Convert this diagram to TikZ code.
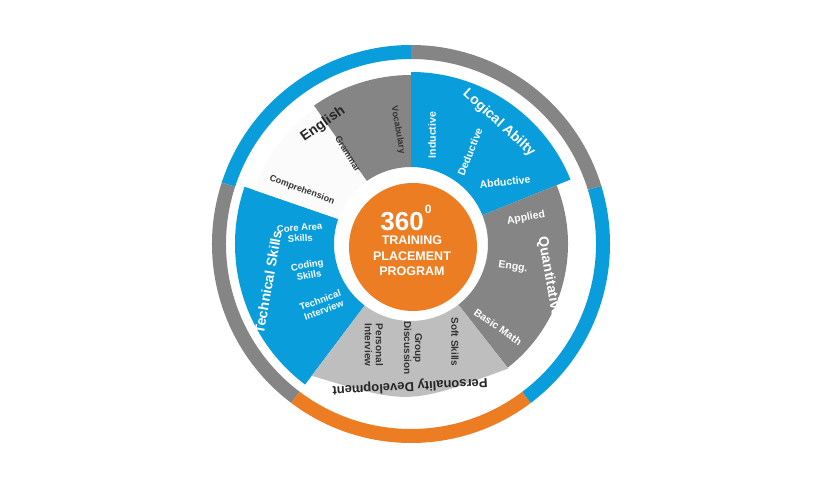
\documentclass[tikz,border=0pt]{standalone}
\usepackage{fontspec}
\setmainfont{Liberation Sans}
\usetikzlibrary{calc}
\definecolor{cblue}{HTML}{0A9DDC}
\definecolor{cgray}{HTML}{858585}
\definecolor{clgray}{HTML}{BEBEBE}
\definecolor{corange}{HTML}{EC7D22}
\newcommand{\mysector}[5]{\fill[#1] ($(O)+(#2:#5)$) arc[start angle=#2,end angle=#3,radius=#5] -- ($(O)+(#3:#4)$) arc[start angle=#3,end angle=#2,radius=#4] -- cycle;}
\tikzset{wt/.style={text=white,font=\bfseries\fontsize{10.5}{11}\selectfont,align=center,inner sep=1pt},
 ws/.style={text=white,font=\bfseries\fontsize{9.5}{10.5}\selectfont,align=center,inner sep=1pt},
 dk/.style={text=black!80,font=\bfseries\fontsize{10}{11}\selectfont,align=center,inner sep=1pt},
 tt/.style={text=white,font=\bfseries\fontsize{14}{15}\selectfont,inner sep=1pt}}
\begin{document}
\begin{tikzpicture}[x=1pt,y=1pt]
\useasboundingbox (0,0) rectangle (820,480);
\fill[white] (0,0) rectangle (820,480);
\coordinate (O) at (411,236);
% outer ring
\mysector{cblue}{90}{162}{185}{199}
\mysector{cgray}{162}{233}{185}{199}
\mysector{corange}{233}{307}{185}{199}
\mysector{cblue}{307}{377}{185}{199}
\mysector{cgray}{17}{90}{185}{199}
% sectors
\mysector{cblue}{22}{90}{77}{172}
\mysector{cgray}{-52}{22}{77}{157}
\mysector{cblue}{161}{233}{77}{176}
\mysector{white!97!gray}{125}{161}{77}{166}
\mysector{cgray}{90}{125}{77}{169}
\fill[clgray] ($(O)+(233:77)$) -- ($(O)+(233:165)$) .. controls (409,75) .. ($(O)+(308:158)$) -- ($(O)+(308:77)$) arc[start angle=308,end angle=233,radius=77] -- cycle;
% center
\node[circle,fill=corange,minimum size=128pt,inner sep=0pt] (c) at (413,233) {};
\node[text=white,font=\bfseries\fontsize{26}{26}\selectfont,inner sep=1pt] (n360) at (406,262) {360\kern1pt\raisebox{1.3ex}{\fontsize{12}{12}\selectfont 0}};
\node[text=white,font=\bfseries\fontsize{12.5}{15.5}\selectfont,align=center,inner sep=1pt] (ttp) at (412,224) {TRAINING\\PLACEMENT\\PROGRAM};
% logical
\node[tt,rotate=-42] (la) at (499,357) {Logical Abilty};
\node[wt,rotate=90] (ind) at (432,345) {Inductive};
\node[wt,rotate=68] (ded) at (470,328) {Deductive};
\node[wt,rotate=6] (abd) at (505,298) {Abductive};
% quant
\node[tt,rotate=-80] (qu) at (549,203) {Quantitative};
\node[wt,rotate=10] (app) at (526,262) {Applied};
\node[wt,rotate=-8] (eng) at (513,213) {Engg.};
\node[wt,rotate=-35] (bm) at (498,153) {Basic Math};
% personality
\node[text=black!85,font=\bfseries\fontsize{13}{14}\selectfont,rotate=183,inner sep=1pt] (pd) at (410,94) {Personality Development};
\node[dk,rotate=-90] (ss) at (455,138) {Soft Skills};
\node[dk,rotate=-90] (gd) at (413,132) {Group\\Discussion};
\node[dk,rotate=-90] (pi) at (374,135) {Personal\\Interview};
% technical
\node[tt,rotate=80] (ts) at (268,198) {Technical Skills};
\node[ws,rotate=4] (cas) at (300,247) {Core Area\\Skills};
\node[ws,rotate=10] (cs) at (308,210) {Coding\\Skills};
\node[ws,rotate=20] (ti) at (322,175) {Technical\\Interview};
% english
\node[text=black!85,font=\bfseries\fontsize{14}{15}\selectfont,rotate=35,inner sep=1pt] (en) at (323,356) {English};
\node[dk,font=\bfseries\fontsize{9}{10}\selectfont,rotate=-20] (comp) at (302,290) {Comprehension};
\node[dk,font=\bfseries\fontsize{9}{10}\selectfont,rotate=-58] (gr) at (348,326) {Grammar};
\node[dk,font=\bfseries\fontsize{9}{10}\selectfont,rotate=-80] (voc) at (398,350) {Vocabulary};
\end{tikzpicture}
\end{document}
